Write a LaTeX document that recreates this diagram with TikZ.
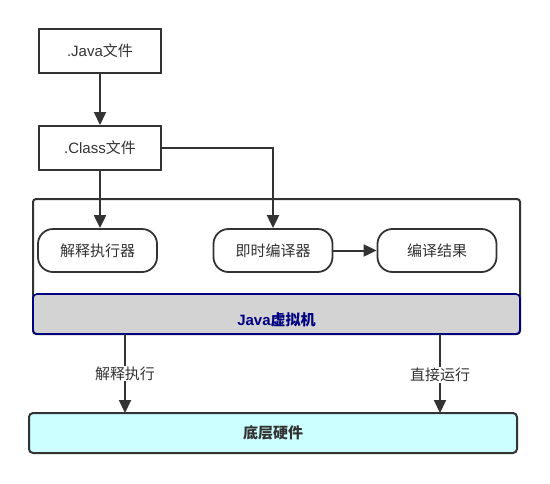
\documentclass[tikz,border=0pt]{standalone}
\usepackage{fontspec}
\setmainfont{Noto Sans CJK SC}
\newfontfamily\latf{Liberation Sans}
\usetikzlibrary{arrows.meta}
\definecolor{ln}{HTML}{333333}
\definecolor{navy}{HTML}{000080}
\definecolor{band}{HTML}{D3D3D3}
\definecolor{cyanf}{HTML}{CCFFFF}
\begin{document}
\begin{tikzpicture}[x=1pt,y=-1pt,
  every node/.style={font=\fontsize{15}{17}\selectfont, text=ln},
  filebox/.style={draw=ln, line width=2pt, minimum width=122pt, minimum height=44pt, inner sep=0pt},
  pill/.style={draw=ln, line width=1.8pt, rounded corners=15pt, minimum width=119pt, minimum height=43pt, inner sep=0pt},
  conn/.style={draw=ln, line width=2pt},
  arr/.style={conn, -{Triangle[length=13pt,width=12pt]}},
  lbl/.style={fill=white, inner sep=1pt}]
\useasboundingbox (0,0) rectangle (550,483);
\node[filebox] (java) at (100,51) {{\latf .Java}文件};
\node[filebox] (class) at (100,148) {{\latf .Class}文件};
\draw[conn, rounded corners=3pt] (33,199) rectangle (520,334);
\node[draw=navy, line width=1.6pt, fill=band, rounded corners=4pt, minimum width=487pt, minimum height=40pt, inner sep=0pt] (jvm) at (276.5,314) {};
\node[font=\fontsize{15}{17}\selectfont\bfseries, text=navy, inner sep=0pt] (jvmtext) at (276.5,320) {{\latf\bfseries Java}虚拟机};
\node[pill] (interp) at (97.5,250.5) {解释执行器};
\node[pill] (jit) at (273,250.5) {即时编译器};
\node[pill] (res) at (437,250.5) {编译结果};
\node[draw=ln, line width=2pt, fill=cyanf, rounded corners=4pt, minimum width=488pt, minimum height=40pt, inner sep=0pt, font=\fontsize{15}{17}\selectfont\bfseries] (hw) at (273,433) {底层硬件};
\coordinate (hwL) at (125,413);
\coordinate (hwR) at (440,413);
\coordinate (jvmL) at (125,334);
\coordinate (jvmR) at (440,334);
\draw[arr] (java.south) -- (class.north);
\draw[arr] (class.south) -- (interp.north -| class.south);
\draw[arr] (class.east) -| (jit.north);
\draw[arr] (jit.east) -- (res.west);
\draw[arr] (jvmL) -- node[lbl, pos=0.5] {解释执行} (hwL);
\draw[arr] (jvmR) -- node[lbl, pos=0.52] {直接运行} (hwR);
\end{tikzpicture}
\end{document}
